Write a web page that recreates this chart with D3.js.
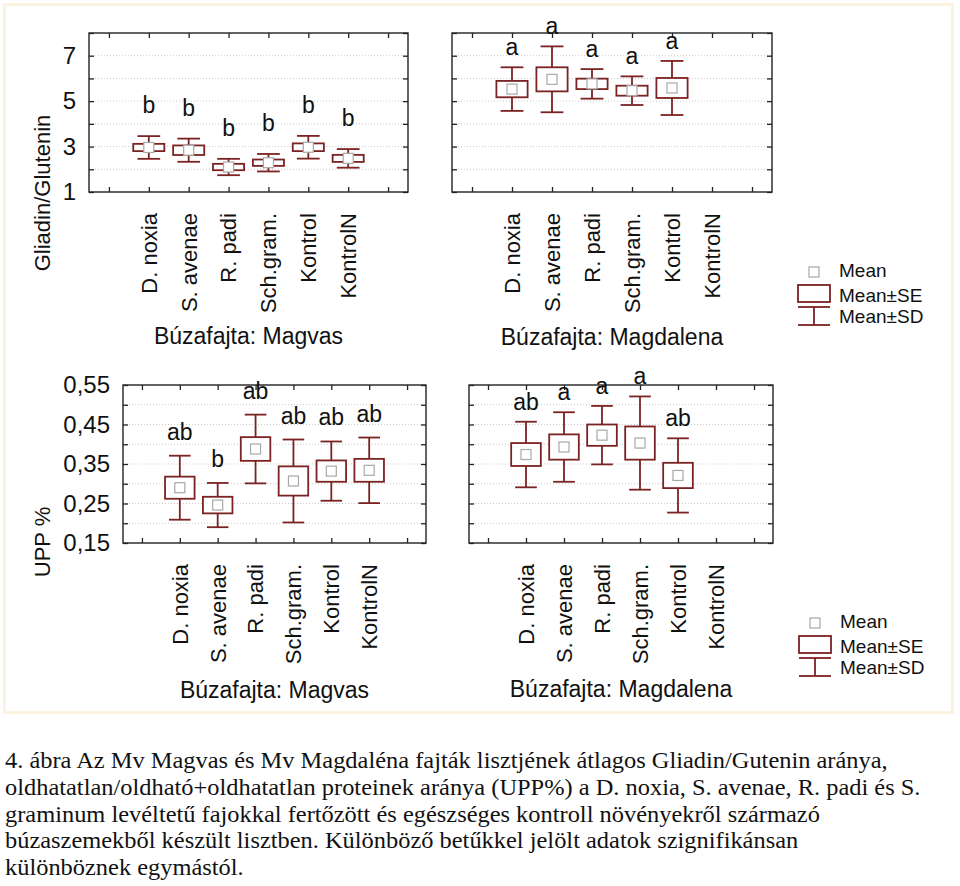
<!DOCTYPE html>
<html>
<head>
<meta charset="utf-8">
<script src="https://cdn.jsdelivr.net/npm/d3@7"></script>
<style>
body { margin: 0; background: #fff; }
svg text { font-family: "Liberation Sans", Arial, sans-serif; fill: #111; }
</style>
</head>
<body>
<svg id="chart" width="960" height="886"></svg>
<script>
var categories = ["D. noxia", "S. avenae", "R. padi", "Sch.gram.", "Kontrol", "KontrolN"];

// Gliadin/Glutenin, Magvas
var ggMagvasMean = [2.96, 2.84, 2.10, 2.29, 2.97, 2.48];
var ggMagvasSE = [0.16, 0.21, 0.14, 0.14, 0.17, 0.155];
var ggMagvasSD = [0.50, 0.51, 0.36, 0.385, 0.50, 0.41];
var ggMagvasLetters = ["b", "b", "b", "b", "b", "b"];

// Gliadin/Glutenin, Magdalena (no KontrolN)
var ggMagdalenaMean = [5.53, 5.96, 5.76, 5.46, 5.58, null];
var ggMagdalenaSE = [0.36, 0.53, 0.23, 0.22, 0.44, null];
var ggMagdalenaSD = [0.96, 1.45, 0.65, 0.63, 1.19, null];
var ggMagdalenaLetters = ["a", "a", "a", "a", "a", ""];

// UPP %, Magvas
var uppMagvasMean = [0.290, 0.246, 0.388, 0.307, 0.332, 0.334];
var uppMagvasSE = [0.028, 0.021, 0.030, 0.037, 0.027, 0.029];
var uppMagvasSD = [0.081, 0.056, 0.087, 0.105, 0.075, 0.083];
var uppMagvasLetters = ["ab", "b", "ab", "ab", "ab", "ab"];

// UPP %, Magdalena (no KontrolN)
var uppMagdalenaMean = [0.374, 0.393, 0.423, 0.403, 0.321, null];
var uppMagdalenaSE = [0.029, 0.032, 0.027, 0.042, 0.032, null];
var uppMagdalenaSD = [0.083, 0.088, 0.074, 0.118, 0.094, null];
var uppMagdalenaLetters = ["ab", "a", "a", "a", "ab", ""];

var ggTicks = [1, 2, 3, 4, 5, 6, 7, 8];
var ggTickLabels = [1, 3, 5, 7];
var uppTicks = [0.15, 0.20, 0.25, 0.30, 0.35, 0.40, 0.45, 0.50, 0.55];
var uppTickLabels = [0.15, 0.25, 0.35, 0.45, 0.55];

var legendLabels = ["Mean", "Mean±SE", "Mean±SD"];

var captionLines = [
	"4. ábra Az Mv Magvas és Mv Magdaléna fajták lisztjének átlagos Gliadin/Gutenin aránya,",
	"oldhatatlan/oldható+oldhatatlan proteinek aránya (UPP%) a D. noxia, S. avenae, R. padi és S.",
	"graminum levéltetű fajokkal fertőzött és egészséges kontroll növényekről származó",
	"búzaszemekből készült lisztben. Különböző betűkkel jelölt adatok szignifikánsan",
	"különböznek egymástól."
];

var boxColor = "#7b2222";
var commaFmt = d3.formatLocale({decimal: ",", thousands: " ", grouping: [3], currency: ["", ""]}).format(".2f");

var svg = d3.select("#chart");

// light outer frame round the graph area
svg.append("rect")
	.attr("x", 4.5).attr("y", 4.5)
	.attr("width", 948).attr("height", 708)
	.attr("fill", "#fff")
	.attr("stroke", "#fbf3df")
	.attr("stroke-width", 3);

function drawPanel(p) {
	var x = d3.scaleLinear().domain([-1.5, 6.5]).range([p.x0, p.x1]);
	var y = d3.scaleLinear().domain([p.ticks[0], p.ticks[p.ticks.length - 1]]).range([p.y1, p.y0]);
	var step = x(1) - x(0);
	var g = svg.append("g");

	// dotted grid
	g.append("g").selectAll("line")
		.data(p.ticks.slice(1, -1))
		.enter().append("line")
		.attr("x1", p.x0).attr("x2", p.x1)
		.attr("y1", function(d) { return y(d); })
		.attr("y2", function(d) { return y(d); })
		.attr("stroke", "#c9c9c9")
		.attr("stroke-dasharray", "1,2");

	// inward ticks on all four sides
	var slots = d3.range(-1, 7);
	var left = d3.axisLeft(y).tickValues(p.ticks).tickSize(-5).tickPadding(13)
		.tickFormat(function(d) {
			if (!p.labels) return "";
			return p.labels.some(function(v) { return Math.abs(v - d) < 1e-9; }) ? p.fmt(d) : "";
		});
	var right = d3.axisRight(y).tickValues(p.ticks).tickSize(-5).tickFormat("");
	var bottom = d3.axisBottom(x).tickValues(slots).tickSize(-5).tickFormat("");
	var top = d3.axisTop(x).tickValues(slots).tickSize(-5).tickFormat("");

	[[left, "translate(" + p.x0 + ",0)"], [right, "translate(" + p.x1 + ",0)"],
	 [bottom, "translate(0," + p.y1 + ")"], [top, "translate(0," + p.y0 + ")"]].forEach(function(a) {
		var ax = g.append("g").attr("transform", a[1]).call(a[0]);
		ax.select(".domain").remove();
		ax.selectAll("line").attr("stroke", "#222").attr("stroke-width", 1.3);
		ax.selectAll("text").attr("font-size", 24).attr("fill", "#111")
			.attr("font-family", '"Liberation Sans", Arial, sans-serif');
	});

	g.append("rect")
		.attr("x", p.x0).attr("y", p.y0)
		.attr("width", p.x1 - p.x0).attr("height", p.y1 - p.y0)
		.attr("fill", "none")
		.attr("stroke", "#222")
		.attr("stroke-width", 1.4);

	var rows = categories.map(function(c, i) {
		return {i: i, mean: p.mean[i], se: p.se[i], sd: p.sd[i], letter: p.letters[i]};
	}).filter(function(d) { return d.mean != null; });

	var item = g.append("g").selectAll("g")
		.data(rows)
		.enter().append("g")
		.attr("transform", function(d) { return "translate(" + x(d.i) + ",0)"; });

	var bw = step * 0.78, cw = step * 0.57;

	item.append("line")
		.attr("y1", function(d) { return y(d.mean + d.sd); })
		.attr("y2", function(d) { return y(d.mean - d.sd); })
		.attr("stroke", boxColor).attr("stroke-width", 1.8);
	item.append("line")
		.attr("x1", -cw / 2).attr("x2", cw / 2)
		.attr("y1", function(d) { return y(d.mean + d.sd); })
		.attr("y2", function(d) { return y(d.mean + d.sd); })
		.attr("stroke", boxColor).attr("stroke-width", 1.8);
	item.append("line")
		.attr("x1", -cw / 2).attr("x2", cw / 2)
		.attr("y1", function(d) { return y(d.mean - d.sd); })
		.attr("y2", function(d) { return y(d.mean - d.sd); })
		.attr("stroke", boxColor).attr("stroke-width", 1.8);
	item.append("rect")
		.attr("x", -bw / 2).attr("width", bw)
		.attr("y", function(d) { return y(d.mean + d.se); })
		.attr("height", function(d) { return y(d.mean - d.se) - y(d.mean + d.se); })
		.attr("fill", "#fff")
		.attr("stroke", boxColor).attr("stroke-width", 1.8);
	item.append("rect")
		.attr("x", -5).attr("width", 10)
		.attr("y", function(d) { return y(d.mean) - 5; })
		.attr("height", 10)
		.attr("fill", "#fff")
		.attr("stroke", "#a8a8a8").attr("stroke-width", 1.2);
	item.append("text")
		.attr("text-anchor", "middle")
		.attr("font-size", 23)
		.attr("y", function(d) { return y(d.mean + d.sd) - p.letterGap; })
		.text(function(d) { return d.letter; });

	// category labels, rotated
	g.append("g").selectAll("text")
		.data(categories)
		.enter().append("text")
		.attr("transform", function(d, i) { return "translate(" + x(i) + "," + (p.y1 + 21) + ") rotate(-90)"; })
		.attr("text-anchor", "end")
		.attr("dy", "0.36em")
		.attr("font-size", 22)
		.text(function(d) { return d; });

	g.append("text")
		.attr("x", (p.x0 + p.x1) / 2)
		.attr("y", p.titleY)
		.attr("text-anchor", "middle")
		.attr("font-size", 23)
		.text(p.title);
}

var ggFmt = function(d) { return String(d); };

drawPanel({x0: 89, x1: 408, y0: 33, y1: 192, ticks: ggTicks, labels: ggTickLabels, fmt: ggFmt,
	mean: ggMagvasMean, se: ggMagvasSE, sd: ggMagvasSD, letters: ggMagvasLetters,
	letterGap: 23, title: "Búzafajta: Magvas", titleY: 344});
drawPanel({x0: 452, x1: 772, y0: 33, y1: 192, ticks: ggTicks, labels: null, fmt: ggFmt,
	mean: ggMagdalenaMean, se: ggMagdalenaSE, sd: ggMagdalenaSD, letters: ggMagdalenaLetters,
	letterGap: 12, title: "Búzafajta: Magdalena", titleY: 345});
drawPanel({x0: 123, x1: 426, y0: 385, y1: 543, ticks: uppTicks, labels: uppTickLabels, fmt: commaFmt,
	mean: uppMagvasMean, se: uppMagvasSE, sd: uppMagvasSD, letters: uppMagvasLetters,
	letterGap: 16, title: "Búzafajta: Magvas", titleY: 698});
drawPanel({x0: 469, x1: 773, y0: 385, y1: 543, ticks: uppTicks, labels: null, fmt: commaFmt,
	mean: uppMagdalenaMean, se: uppMagdalenaSE, sd: uppMagdalenaSD, letters: uppMagdalenaLetters,
	letterGap: 12, title: "Búzafajta: Magdalena", titleY: 697});

// y axis titles
svg.append("text")
	.attr("transform", "translate(50,193) rotate(-90)")
	.attr("text-anchor", "middle")
	.attr("font-size", 22)
	.text("Gliadin/Glutenin");
svg.append("text")
	.attr("transform", "translate(50,542) rotate(-90)")
	.attr("text-anchor", "middle")
	.attr("font-size", 22)
	.text("UPP %");

function drawLegend(ox, oy) {
	var lg = svg.append("g").attr("transform", "translate(" + ox + "," + oy + ")");
	lg.append("rect").attr("x", 11).attr("y", 1).attr("width", 10).attr("height", 10)
		.attr("fill", "#fff").attr("stroke", "#a8a8a8").attr("stroke-width", 1.2);
	lg.append("rect").attr("x", 0).attr("y", 19).attr("width", 32).attr("height", 17)
		.attr("fill", "#fff").attr("stroke", boxColor).attr("stroke-width", 1.8);
	lg.append("line").attr("x1", 0).attr("x2", 32).attr("y1", 41).attr("y2", 41)
		.attr("stroke", boxColor).attr("stroke-width", 1.8);
	lg.append("line").attr("x1", 0).attr("x2", 32).attr("y1", 59).attr("y2", 59)
		.attr("stroke", boxColor).attr("stroke-width", 1.8);
	lg.append("line").attr("x1", 16).attr("x2", 16).attr("y1", 41).attr("y2", 59)
		.attr("stroke", boxColor).attr("stroke-width", 1.8);
	lg.selectAll("text.lab")
		.data(legendLabels)
		.enter().append("text")
		.attr("x", 41)
		.attr("y", function(d, i) { return [11, 36, 57][i]; })
		.attr("font-size", 19)
		.text(function(d) { return d; });
}
drawLegend(798, 266);
drawLegend(799, 617);

// caption, serif, squeezed horizontally like the original
var cap = svg.append("g");
var capText = cap.selectAll("text")
	.data(captionLines)
	.enter().append("text")
	.attr("x", 0)
	.attr("y", function(d, i) { return 768 + i * 26.8; })
	.attr("font-size", 24)
	.style("font-family", '"Liberation Serif", "Times New Roman", serif')
	.text(function(d) { return d; });
var w0 = capText.node().getComputedTextLength();
var sx = 883 / w0;
cap.attr("transform", "translate(5,0) scale(" + sx + ",1)");
</script>
</body>
</html>
